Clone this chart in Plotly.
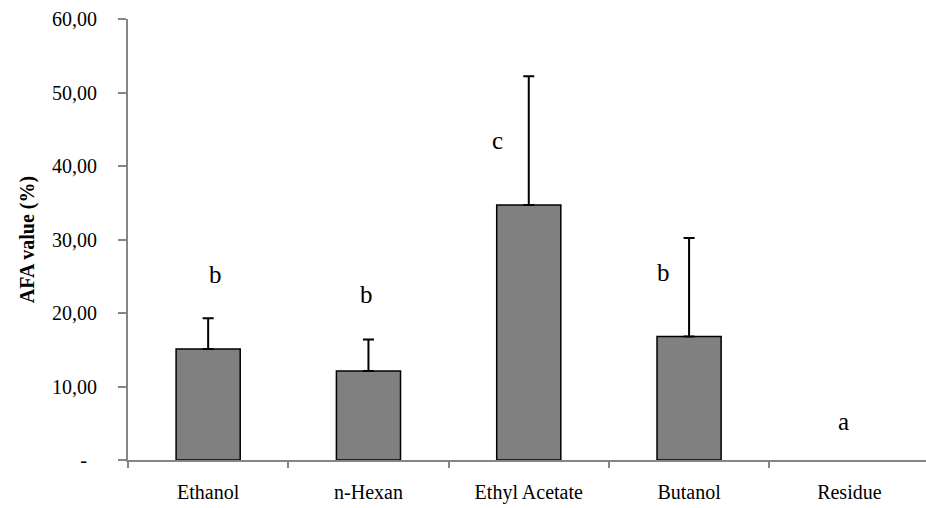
import plotly.graph_objects as go

# Fractions and mean AFA values with upper standard deviation
fractions = ["Ethanol", "n-Hexan", "Ethyl Acetate", "Butanol", "Residue"]
afa_mean = [15.1, 12.1, 34.7, 16.8, 0.0]
afa_sd = [4.2, 4.3, 17.5, 13.4, None]

# Significance groups written above each fraction
group_letters = ["b", "b", "c", "b", "a"]
letter_y = [25.2, 22.5, 43.5, 25.5, 5.2]
letter_dx = [7, -2, -31, -26, -6]

# Y axis tick labels (accounting style, dash for zero)
y_tickvals = [0, 10, 20, 30, 40, 50, 60]
y_ticktext = ["-\u00a0\u00a0", "10,00", "20,00", "30,00", "40,00", "50,00", "60,00"]

FONT = "'Liberation Serif', 'DejaVu Serif', serif"
AXIS_GREY = "#868686"

fig = go.Figure()
fig.add_trace(go.Bar(
    x=fractions,
    y=afa_mean,
    marker=dict(
        color="#808080",
        line=dict(color="black", width=[1.5 if v > 0 else 0 for v in afa_mean]),
    ),
    width=0.4,
    showlegend=False,
    hoverinfo="x+y",
))

# Upward-only error bars, only where a deviation exists
err_idx = [i for i, s in enumerate(afa_sd) if s is not None]
fig.add_trace(go.Scatter(
    x=[fractions[i] for i in err_idx],
    y=[afa_mean[i] for i in err_idx],
    mode="markers",
    marker=dict(size=0.1, opacity=0),
    error_y=dict(
        type="data",
        symmetric=False,
        array=[afa_sd[i] for i in err_idx],
        arrayminus=[0] * len(err_idx),
        color="black",
        thickness=2,
        width=5.5,
    ),
    showlegend=False,
    hoverinfo="skip",
))

for name, letter, ly, dx in zip(fractions, group_letters, letter_y, letter_dx):
    fig.add_annotation(
        x=name, y=ly, text=letter, showarrow=False, xshift=dx,
        font=dict(family=FONT, size=25, color="black"),
    )

fig.update_layout(
    width=926, height=508,
    margin=dict(l=128, r=0, t=19, b=48),
    paper_bgcolor="white", plot_bgcolor="white",
    font=dict(family=FONT, color="black"),
    bargap=0.6,
)
fig.update_xaxes(
    type="category",
    categoryorder="array", categoryarray=fractions,
    range=[-0.5, 4.478],
    showline=True, linecolor=AXIS_GREY, linewidth=2,
    ticks="outside", tickson="boundaries", ticklen=6, tickcolor=AXIS_GREY, tickwidth=2,
    tickfont=dict(family=FONT, size=20, color="black"),
    ticklabelstandoff=13,
    showgrid=False, zeroline=False,
)
fig.update_yaxes(
    range=[0, 60],
    tickvals=y_tickvals, ticktext=y_ticktext,
    showline=True, linecolor=AXIS_GREY, linewidth=2,
    ticks="outside", ticklen=8, tickcolor=AXIS_GREY, tickwidth=2,
    tickfont=dict(family=FONT, size=20, color="black"),
    ticklabelstandoff=17,
    showgrid=False, zeroline=False,
    title=dict(text="<b>AFA value (%)</b>", font=dict(family=FONT, size=20, color="black"), standoff=12),
)

fig.write_html("out.html")
